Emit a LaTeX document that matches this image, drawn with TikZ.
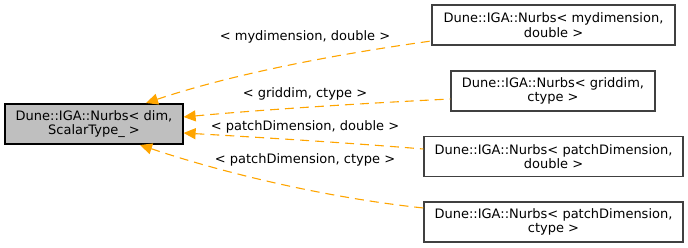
\documentclass[tikz,border=0pt]{standalone}
\usepackage{fontspec}
\setmainfont{DejaVu Sans}
\usetikzlibrary{arrows.meta}
\definecolor{dxgray}{HTML}{BFBFBF}
\definecolor{dxedge}{HTML}{404040}
\definecolor{dxorange}{HTML}{FFA500}
\tikzset{
  cls/.style={draw=dxedge, fill=white, align=center, line width=1.2pt,
              inner sep=0pt, font=\fontsize{13}{14.5}\selectfont},
  base/.style={cls, draw=black, fill=dxgray},
  inh/.style={{Triangle[length=12pt, width=11pt]}-, draw=dxorange, line width=1.1pt,
              dash pattern=on 9pt off 6pt},
  lbl/.style={font=\fontsize{13}{15}\selectfont, inner sep=1pt},
}

\begin{document}
\begin{tikzpicture}[x=1pt, y=-1pt]
  \useasboundingbox (0,0) rectangle (688,248);
  \node[base, minimum width=178pt, minimum height=40pt] (nurbs) at (94,124)
    {Dune::IGA::Nurbs\textless{} dim,\\ScalarType\_ \textgreater};

  \node[cls, minimum width=243pt, minimum height=40pt] (mydim) at (553.5,25)
    {Dune::IGA::Nurbs\textless{} mydimension,\\double \textgreater};
  \node[cls, minimum width=204pt, minimum height=40pt] (grid) at (553,91)
    {Dune::IGA::Nurbs\textless{} griddim,\\ctype \textgreater};
  \node[cls, minimum width=259pt, minimum height=40pt] (patchd) at (553.5,156.5)
    {Dune::IGA::Nurbs\textless{} patchDimension,\\double \textgreater};
  \node[cls, minimum width=259pt, minimum height=40pt] (patchc) at (553.5,222)
    {Dune::IGA::Nurbs\textless{} patchDimension,\\ctype \textgreater};

  \draw[inh] (146,103) .. controls (230,75) and (330,55) .. (mydim.west |- 0,41);
  \draw[inh] (nurbs.east |- 0,117) .. controls (270,109) and (370,103) .. (grid.west |- 0,99);
  \draw[inh] (nurbs.east |- 0,133) .. controls (270,138) and (350,143) .. (patchd.west |- 0,149);
  \draw[inh] (140,145) .. controls (230,175) and (330,198) .. (patchc.west |- 0,208);

  \node[lbl] (l1) at (305,37) {\textless{} mydimension, double \textgreater};
  \node[lbl] (l2) at (305,94) {\textless{} griddim, ctype \textgreater};
  \node[lbl] (l3) at (305,127) {\textless{} patchDimension, double \textgreater};
  \node[lbl] (l4) at (305,160) {\textless{} patchDimension, ctype \textgreater};
\end{tikzpicture}
\end{document}
